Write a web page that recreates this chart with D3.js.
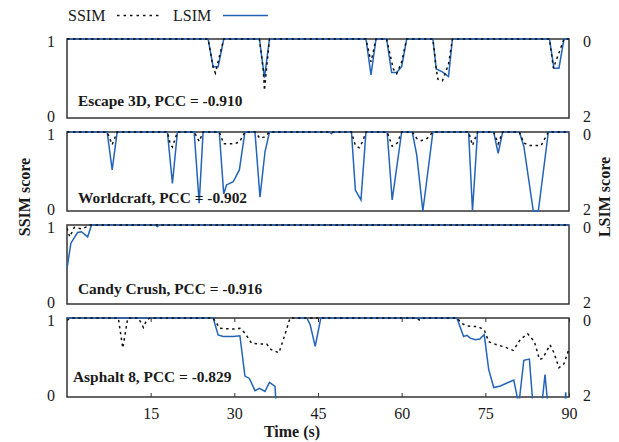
<!DOCTYPE html>
<html>
<head>
<meta charset="utf-8">
<script src="https://cdn.jsdelivr.net/npm/d3@7"></script>
<style>
  body { margin: 0; background: #fff; }
  svg { display: block; }
</style>
</head>
<body>
<div id="chart"></div>
<script>
// Game names and PCC captions, one per panel (top to bottom)
const games = ["Escape 3D", "Worldcraft", "Candy Crush", "Asphalt 8"];
const pccValues = ["-0.910", "-0.902", "-0.916", "-0.829"];

// x ticks (seconds)
const timeTicks = [15, 30, 45, 60, 75, 90];

// SSIM series, [time, score]
const ssimEscape = [[0,1],[25.3,1],[26.2,0.64],[26.6,0.57],[28.1,1],[34.5,1],[35.2,0.6],[35.4,0.35],[36.3,1],
  [53.6,1],[54.5,0.71],[55.4,1],[57.3,1],[58.5,0.62],[59.1,0.56],[60,0.71],[60.9,1],
  [65.6,1],[66.2,0.62],[66.5,0.49],[67.3,0.47],[68.4,0.68],[69.1,1],[86.5,1],[87.2,0.63],[89.1,1],[90,1]];
const ssimWorld = [[0,1],[7.2,1],[8.1,0.84],[9,1],[18,1],[18.5,0.85],[18.9,0.81],[19.8,1],[22.8,1],[23.7,0.88],[24.4,1],
  [27.3,1],[28.1,0.85],[29.8,0.85],[30.9,0.87],[31.9,1],[33.7,1],[34.6,0.92],[35.5,0.94],[36.3,1],
  [51,1],[51.7,0.83],[52.4,0.8],[53,0.88],[53.6,1],[57.4,1],[58.3,0.82],[59.2,0.86],[60,1],
  [61.9,1],[62.7,0.92],[63.5,0.89],[64.6,0.92],[65.6,1],[72,1],[72.7,0.83],[73.6,1],
  [76.5,1],[77.3,0.85],[78.1,1],[81.1,1],[81.9,0.86],[83,0.83],[85,0.83],[86.3,1],[90,1]];
const ssimCandy = [[0,0.96],[0.5,0.85],[1.3,0.97],[2.6,0.95],[3.3,0.97],[4,1],[90,1]];
const ssimAsphalt = [[0,0.97],[0.6,1],[9.2,1],[10,0.62],[10.9,1],[12.8,1],[13.7,0.88],[14.3,0.98],[15,1],
  [26.2,1],[27.4,0.87],[29.8,0.86],[31,0.87],[31.9,0.81],[33.1,0.68],[34.6,0.67],[35.8,0.67],[36.6,0.6],[38,0.56],[38.8,0.73],[40,1],
  [62.5,1],[63.3,0.97],[64,1],[69.9,1],[70.8,0.93],[71.7,0.9],[73.7,0.89],[74.8,0.85],[75.6,0.7],[77.1,0.66],
  [78.6,0.63],[80,0.59],[81.3,0.73],[82.6,0.8],[83.8,0.7],[84.7,0.475],[85.3,0.49],[86.6,0.66],[87.3,0.56],
  [88.2,0.37],[89.1,0.42],[90,0.61]];

// LSIM series, [time, score]; null = no sample
const lsimEscape = [[0,0],[25.3,0],[26.2,0.7],[27.1,0.7],[28.1,0],[34.5,0],[35.4,0.98],[36.3,0],
  [53.6,0],[54.5,0.91],[55.4,0],[57.3,0],[58.2,0.85],[59.1,0.85],[60,0.7],[60.9,0],
  [65.6,0],[66.2,0.76],[67.3,0.83],[68.4,0.95],[69.1,0],[86.5,0],[87.3,0.74],[88.2,0.74],[89.1,0],[90,0]];
const lsimWorld = [[0,0],[7.2,0],[8.1,0.96],[9,0],[18,0],[18.9,1.3],[19.8,0],[22.8,0],[23.7,1.8],[24.4,0],
  [27.3,0],[28.1,1.57],[28.6,1.34],[29.8,1.26],[30.9,0.96],[31.9,0],[33.7,0],[34.6,1.65],[35.5,0.5],[36.3,0],
  [47,0],[47.4,0.04],[47.8,0],[51,0],[51.7,1.47],[52.7,1.72],[53.6,0],[57.4,0],[58.3,1.72],[60,0],
  [61.9,0],[62.7,0.58],[63.8,2],[65.6,0],[72,0],[72.7,2],[73.6,0],[76.5,0],[77.3,0.54],[78.1,0],
  [81.1,0],[81.9,0.36],[83.6,2],[84.5,2],[86.3,0],[90,0]];
const lsimCandy = [[0,1.1],[0.7,0.46],[1.9,0.19],[2.6,0.17],[3.7,0.3],[4.4,0],[15.8,0],[16.2,0.04],[16.6,0],[90,0]];
const lsimAsphalt = [[0,0],[26.2,0],[27.1,0.43],[28,0.47],[29.8,0.47],[31,0.45],[31.9,1.47],[32.7,1.53],
  [33.7,1.84],[34.5,1.78],[35.5,1.86],[36.3,1.63],[37.3,1.73],[37.6,2.5],null,[41.2,0],[43,0],[43.6,0.17],
  [44.5,0.72],[45.5,0],[69.9,0],[71.1,0.47],[71.7,0.44],[72.3,0.51],[73.2,0.55],[74,0.53],[74.8,0.42],
  [75.6,1.3],[76.5,1.76],[77.7,1.72],[80.1,1.57],[81,2.2],[81.9,1.07],[82.9,1.04],[83.7,2.5],[84.9,2.5],
  [85.7,1.43],[86.4,2.5],[89.2,2.5],[89.4,1.88],[89.7,2.5],[90,2.5]];

const ssimSeries = [ssimEscape, ssimWorld, ssimCandy, ssimAsphalt];
const lsimSeries = [lsimEscape, lsimWorld, lsimCandy, lsimAsphalt];

// layout
const width = 619, height = 442;
const left = 67, right = 569;
const panelTops = [39, 132, 225, 318];
const panelH = 79;
const captionPos = [[78, 106], [78, 203], [78, 294], [73, 382]];

const serif = "\"Liberation Serif\", \"Times New Roman\", serif";
const blue = "#2363b9";
const frameColor = "#333";
const textColor = "#1a1a1a";

const svg = d3.select("#chart").append("svg")
  .attr("width", width)
  .attr("height", height)
  .style("font-family", serif);

const x = d3.scaleLinear().domain([0, 90]).range([left, right]);

const styleText = sel => sel
  .attr("font-family", serif)
  .style("font-family", serif)
  .style("font-size", "16px")
  .attr("fill", textColor);

games.forEach((game, i) => {
  const top = panelTops[i];
  const bottom = top + panelH;
  const ySsim = d3.scaleLinear().domain([0, 1]).range([bottom, top]);
  const yLsim = d3.scaleLinear().domain([0, 2]).range([top, bottom]);

  const g = svg.append("g");

  // clip a touch beyond the frame so the flat lines sit on the border
  const clipId = "clip" + i;
  svg.append("clipPath").attr("id", clipId)
    .append("rect")
    .attr("x", left).attr("y", top - 1.5)
    .attr("width", right - left).attr("height", panelH + 3);

  g.append("rect")
    .attr("x", left).attr("y", top)
    .attr("width", right - left).attr("height", panelH)
    .attr("fill", "none")
    .attr("stroke", frameColor)
    .attr("stroke-width", 1.5);

  const lineS = d3.line()
    .defined(d => d !== null)
    .x(d => x(d[0]))
    .y(d => ySsim(d[1]));
  const lineL = d3.line()
    .defined(d => d !== null)
    .x(d => x(d[0]))
    .y(d => yLsim(d[1]));

  const plot = g.append("g").attr("clip-path", `url(#${clipId})`);

  plot.append("path")
    .datum(lsimSeries[i])
    .attr("d", lineL)
    .attr("fill", "none")
    .attr("stroke", blue)
    .attr("stroke-width", 1.5);

  plot.append("path")
    .datum(ssimSeries[i])
    .attr("d", lineS)
    .attr("fill", "none")
    .attr("stroke", "#111")
    .attr("stroke-width", 1.5)
    .attr("stroke-dasharray", "2.5,3.5");

  // left SSIM axis (0, 1)
  const axL = g.append("g")
    .attr("transform", `translate(${left},0)`)
    .call(d3.axisLeft(ySsim).tickValues([0, 1]).tickFormat(d3.format("d")).tickSize(0).tickPadding(12));
  // right LSIM axis (0, 2), inverted
  const axR = g.append("g")
    .attr("transform", `translate(${right},0)`)
    .call(d3.axisRight(yLsim).tickValues([0, 2]).tickFormat(d3.format("d")).tickSize(0).tickPadding(14));
  [axL, axR].forEach(ax => {
    ax.attr("font-family", null);
    ax.select(".domain").remove();
    ax.selectAll("text").call(styleText);
  });
  // lower labels sit slightly high, upper labels slightly low (as in the original)
  axL.selectAll(".tick text").attr("dy", d => d === 0 ? "0.2em" : "0.45em");
  axR.selectAll(".tick text").attr("dy", d => d === 2 ? "0.2em" : "0.45em");

  // caption
  g.append("text")
    .attr("x", captionPos[i][0])
    .attr("y", captionPos[i][1])
    .attr("font-family", serif)
    .style("font-family", serif)
    .style("font-size", "15.4px")
    .style("font-weight", "bold")
    .attr("fill", textColor)
    .text(`${game}, PCC = ${pccValues[i]}`);

  // time axis only on the last panel
  if (i === games.length - 1) {
    const axB = g.append("g")
      .attr("transform", `translate(0,${bottom})`)
      .call(d3.axisBottom(x).tickValues(timeTicks).tickSize(-4).tickPadding(11));
    axB.attr("font-family", null);
    axB.select(".domain").remove();
    axB.selectAll("line").attr("stroke", frameColor).attr("stroke-width", 1);
    axB.selectAll("text").call(styleText);

    const axT = g.append("g")
      .attr("transform", `translate(0,${top})`)
      .call(d3.axisTop(x).tickValues(timeTicks).tickSize(-4).tickFormat(""));
    axT.select(".domain").remove();
    axT.selectAll("line").attr("stroke", frameColor).attr("stroke-width", 1);
  }
});

// axis titles
const title = (txt) => svg.append("text")
  .attr("text-anchor", "middle")
  .attr("font-family", serif)
  .style("font-family", serif)
  .style("font-size", "16px")
  .style("font-weight", "bold")
  .attr("fill", textColor)
  .text(txt);

title("SSIM score").attr("transform", "translate(30,197) rotate(-90)");
title("LSIM score").attr("transform", "translate(610,197) rotate(-90)");
title("Time (s)").attr("x", 292).attr("y", 437);

// legend
const legend = svg.append("g");
legend.append("text").attr("x", 68).attr("y", 21).call(styleText).text("SSIM");
legend.append("line").attr("x1", 117).attr("x2", 160).attr("y1", 15.5).attr("y2", 15.5)
  .attr("stroke", "#111").attr("stroke-width", 1.5).attr("stroke-dasharray", "2.5,4");
legend.append("text").attr("x", 173).attr("y", 21).call(styleText).text("LSIM");
legend.append("line").attr("x1", 223).attr("x2", 268).attr("y1", 15.5).attr("y2", 15.5)
  .attr("stroke", blue).attr("stroke-width", 1.5);
</script>
</body>
</html>
